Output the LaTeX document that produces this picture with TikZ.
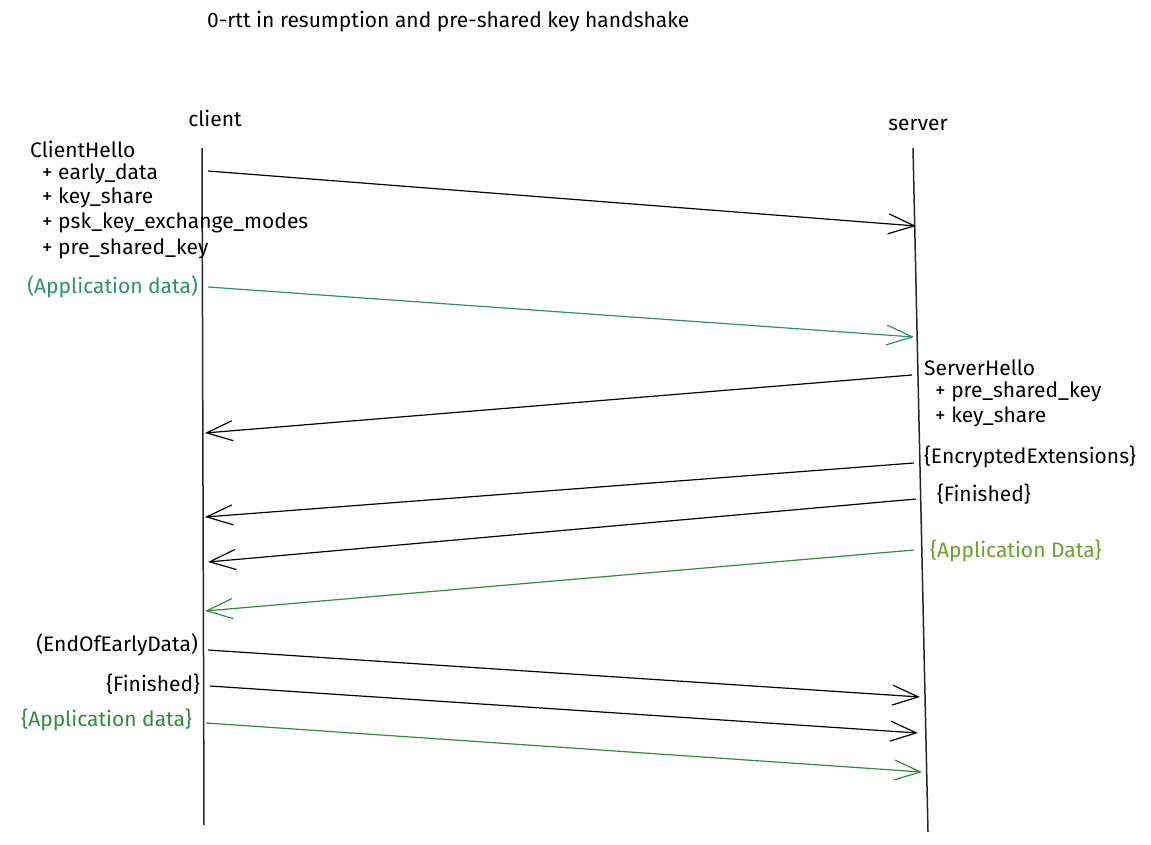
\documentclass[tikz,border=0pt]{standalone}
\usepackage{fontspec}
\setmainfont{Fira Sans}
\usetikzlibrary{arrows.meta}

\definecolor{tealgreen}{RGB}{43,146,104}
\definecolor{olivegreen}{RGB}{104,160,40}
\definecolor{msggreen}{RGB}{47,140,60}

\tikzset{
  lbl/.style={inner sep=0pt, font=\fontsize{21}{24}\selectfont},
  lifeline/.style={line width=1.5pt, black!85},
  msg/.style={line width=1.2pt, -{Straight Barb[length=26pt,width=20pt,line width=1.2pt]}}
}

\begin{document}
\begin{tikzpicture}[x=1pt,y=-1pt]
\useasboundingbox (0,0) rectangle (1151,844);

%% title and hosts
\node[lbl, anchor=west] (title) at (207,22) {0-rtt in resumption and pre-shared key handshake};
\node[lbl] (client) at (215,118) {client};
\node[lbl] (server) at (918,125) {server};

%% lifelines
\coordinate (ctop) at (202,148);
\coordinate (cbot) at (204,825);
\coordinate (stop) at (913,148);
\coordinate (sbot) at (928,832);
\draw[lifeline] (ctop) -- (cbot);
\draw[lifeline] (stop) -- (sbot);

%% end points on the client side
\coordinate (c1) at (208,171);
\coordinate (c2) at (208,287);
\coordinate (c3) at (205,433);
\coordinate (c4) at (205,517);
\coordinate (c5) at (208,562);
\coordinate (c6) at (205,611);
\coordinate (c7) at (208,650);
\coordinate (c8) at (210,686);
\coordinate (c9) at (206,723);
%% end points on the server side
\coordinate (s1) at (916,226);
\coordinate (s2) at (914,337);
\coordinate (s3) at (912,375);
\coordinate (s4) at (914,463);
\coordinate (s5) at (916,499);
\coordinate (s6) at (914,550);
\coordinate (s7) at (920,697);
\coordinate (s8) at (918,733);
\coordinate (s9) at (922,772);

%%% labels
\node[lbl, anchor=west] (chello) at (30,149) {ClientHello};
\node[lbl, anchor=west] (early) at (42,174) {+ early\_data};
\node[lbl, anchor=west] (ckey) at (42,198) {+ key\_share};
\node[lbl, anchor=west] (modes) at (42,223) {+ psk\_key\_exchange\_modes};
\node[lbl, anchor=west] (cpsk) at (42,249) {+ pre\_shared\_key};
\node[lbl, anchor=east, text=tealgreen] (capp) at (198,287) {(Application data)};

\node[lbl, anchor=west] (shello) at (924,368) {ServerHello};
\node[lbl, anchor=west] (spsk) at (935,392) {+ pre\_shared\_key};
\node[lbl, anchor=west] (skey) at (935,417) {+ key\_share};
\node[lbl, anchor=west] (encext) at (924,457) {\{EncryptedExtensions\}};
\node[lbl, anchor=west] (sfin) at (937,494) {\{Finished\}};
\node[lbl, anchor=west, text=olivegreen] (sapp) at (930,551) {\{Application Data\}};

\node[lbl, anchor=east] (eoed) at (198,645) {(EndOfEarlyData)};
\node[lbl, anchor=east] (cfin) at (200,684) {\{Finished\}};
\node[lbl, anchor=east, text=msggreen] (capp2) at (192,720) {\{Application data\}};

%%% messages
\draw[msg] (c1) -- (s1);
\draw[msg, tealgreen] (c2) -- (s2);
\draw[msg] (s3) -- (c3);
\draw[msg] (s4) -- (c4);
\draw[msg] (s5) -- (c5);
\draw[msg, msggreen] (s6) -- (c6);
\draw[msg] (c7) -- (s7);
\draw[msg] (c8) -- (s8);
\draw[msg, msggreen] (c9) -- (s9);

\end{tikzpicture}
\end{document}
